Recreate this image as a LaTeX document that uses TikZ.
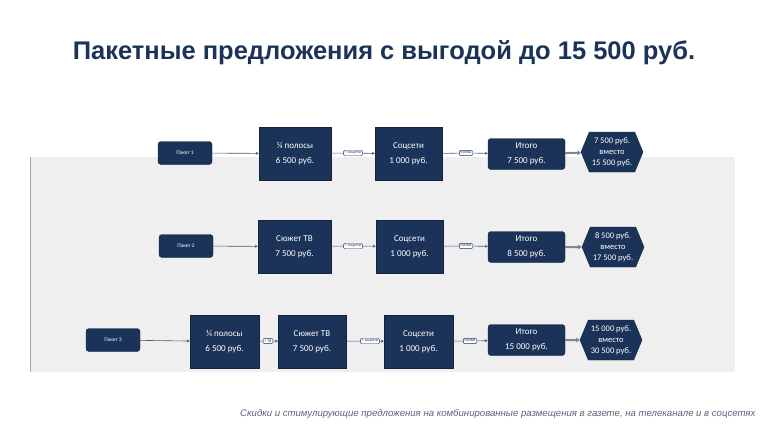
\documentclass[tikz,border=0pt]{standalone}
\usepackage{fontspec}
\setmainfont{Carlito}
\newfontfamily\titlefont{Liberation Sans}
\usetikzlibrary{shapes.geometric,shapes.symbols,arrows.meta}
\definecolor{navy}{HTML}{1B3358}
\definecolor{bg}{HTML}{EFEFEF}
\definecolor{footc}{HTML}{5A6478}
\begin{document}
\begin{tikzpicture}[x=1pt,y=-1pt,
  box/.style={fill=navy,draw=navy!70!black,text=white,font=\fontsize{9}{15}\selectfont,align=center,inner sep=0pt},
  pk/.style={box,rounded corners=3pt,minimum width=54pt,minimum height=23pt,font=\fontsize{5.5}{6}\selectfont},
  sq/.style={box,minimum height=53pt},
  tot/.style={box,rounded corners=3pt,minimum width=77pt,minimum height=31pt},
  hex/.style={box,signal,signal to=east and west,signal pointer angle=135,minimum width=62pt,minimum height=40pt,font=\fontsize{8.5}{11}\selectfont,inner xsep=0pt},
  lab/.style={draw=navy,fill=white,rounded corners=1pt,font=\fontsize{4}{4.5}\selectfont,inner sep=1.3pt,text=navy},
  ln/.style={draw=navy!80,line width=0.6pt},
  ar/.style={ln,-{Stealth[length=3pt,width=3pt]}},
  bar/.style={draw=navy!60!gray!70,line width=2pt,-{Stealth[length=4pt,width=5pt]}}]
\useasboundingbox (0,0) rectangle (768,432);
\fill[white] (0,0) rectangle (768,432);
\fill[bg] (30,157) rectangle (735,372);
\draw[gray!70,line width=0.6pt] (30,157) -- (30,372);
\node[font=\titlefont\bfseries\fontsize{25.5}{30}\selectfont,text=navy] (title) at (384,53) {Пакетные предложения с выгодой до 15 500 руб.};
\node[anchor=east,font=\titlefont\itshape\fontsize{9.6}{11}\selectfont,text=footc] (foot) at (759,414) {Скидки и стимулирующие предложения на комбинированные размещения в газете, на телеканале и в соцсетях};
% row 1
\node[pk] (p1) at (185,153) {Пакет 1};
\node[sq,minimum width=72pt] (a1) at (295,153.5) {¼ полосы\\6 500 руб.};
\node[sq,minimum width=67pt] (b1) at (408.5,154) {Соцсети\\1 000 руб.};
\node[tot] (t1) at (526.5,154) {Итого\\7 500 руб.};
\node[hex] (h1) at (612,152) {7 500 руб.\\вместо\\15 500 руб.};
\node[lab] (l1a) at (353,153) {+ соцсети};
\node[lab] (l1b) at (466,153) {сумма};
\draw[ar] (p1) -- (a1);
\draw[ln] (a1) -- (l1a); \draw[ar] (l1a) -- (b1);
\draw[ln] (b1) -- (l1b); \draw[ar] (l1b) -- (t1);
\draw[bar] (t1) -- (h1);
% row 2
\node[pk] (p2) at (186,246) {Пакет 2};
\node[sq,minimum width=73pt] (a2) at (294.5,246.5) {Сюжет ТВ\\7 500 руб.};
\node[sq,minimum width=67pt] (b2) at (409.5,246.5) {Соцсети\\1 000 руб.};
\node[tot] (t2) at (526.5,247) {Итого\\8 500 руб.};
\node[hex] (h2) at (613,247) {8 500 руб.\\вместо\\17 500 руб.};
\node[lab] (l2a) at (353,246) {+ соцсети};
\node[lab] (l2b) at (466,246) {сумма};
\draw[ar] (p2) -- (a2);
\draw[ln] (a2) -- (l2a); \draw[ar] (l2a) -- (b2);
\draw[ln] (b2) -- (l2b); \draw[ar] (l2b) -- (t2);
\draw[bar] (t2) -- (h2);
% row 3
\node[pk] (p3) at (113,340) {Пакет 3};
\node[sq,minimum width=69pt] (a3) at (224.5,341.5) {¼ полосы\\6 500 руб.};
\node[sq,minimum width=68pt] (c3) at (312,341.5) {Сюжет ТВ\\7 500 руб.};
\node[sq,minimum width=69pt] (b3) at (418.5,341.5) {Соцсети\\1 000 руб.};
\node[tot] (t3) at (526.5,340) {Итого\\15 000 руб.};
\node[hex] (h3) at (611,340) {15 000 руб.\\вместо\\30 500 руб.};
\node[lab] (l3a) at (268,341) {+ ТВ};
\node[lab] (l3b) at (370,341) {+ соцсети};
\node[lab] (l3c) at (470,341) {сумма};
\draw[ar] (p3) -- (a3);
\draw[ln] (a3) -- (l3a); \draw[ar] (l3a) -- (c3);
\draw[ln] (c3) -- (l3b); \draw[ar] (l3b) -- (b3);
\draw[ln] (b3) -- (l3c); \draw[ar] (l3c) -- (t3);
\draw[bar] (t3) -- (h3);
\end{tikzpicture}
\end{document}
